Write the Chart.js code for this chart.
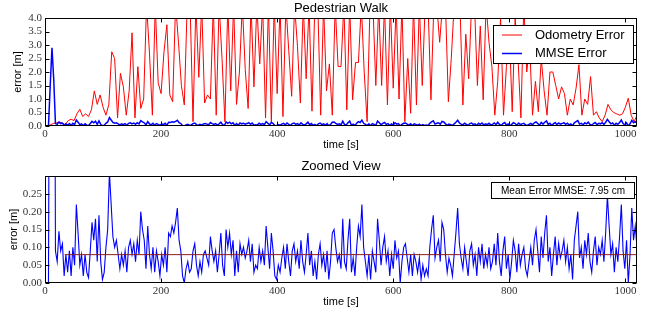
<!DOCTYPE html>
<html>
<head>
<meta charset="utf-8">
<script src="https://cdn.jsdelivr.net/npm/chart.js@4.4.1/dist/chart.umd.min.js"></script>
<style>
html, body { margin: 0; padding: 0; background: #fff; }
#wrap { position: relative; width: 651px; height: 314px; }
canvas { position: absolute; left: 0; }
</style>
</head>
<body>
<div id="wrap">
  <canvas id="walk" width="651" height="157" style="top:0"></canvas>
  <canvas id="zoomed" width="651" height="157" style="top:157px"></canvas>
</div>
<script>
// sampling of the two logged series (seconds between samples)
const odoStep = 5;
const mmseStep = 3;

// odometry error [m], t = 0 .. 1020 s
const odometryError = [
  0, 0, 0.05, 0.1, 0.12, 0.15, 0.1, 0.05, 0.2, 0.25,
  0.2, 0.45, 0.62, 0.35, 0.45, 0.35, 0.6, 1.3, 0.8, 1.15,
  0.7, 0.4, 0.8, 2.75, 2.5, 0.3, 1.95, 1.45, 0.4, 1.3,
  3.45, 0.3, 2.2, 0.65, 1.0, 4.5, 2.7, 0.4, 4.5, 1.6,
  1.2, 2.75, 3.75, 1.15, 0.9, 4.5, 3.1, 1.5, 0.78, 4.5,
  4.5, 0.16, 4.5, 1.8, 4.5, 0.85, 1.15, 1.0, 4.5, 0.4,
  4.5, 2.5, 0.16, 4.5, 1.3, 4.5, 0.8, 2.0, 4.5, 2.1,
  0.65, 4.5, 1.45, 4.5, 2.3, 4.5, 0.3, 4.5, 0.16, 4.5,
  1.2, 4.5, 0.35, 4.5, 2.8, 1.1, 4.5, 2.95, 0.85, 4.5,
  1.75, 4.5, 0.55, 4.5, 4.5, 0.4, 4.5, 1.3, 2.3, 0.4,
  4.5, 2.2, 2.2, 4.5, 0.6, 4.5, 0.97, 2.35, 2.35, 4.5,
  2.0, 0.16, 4.5, 4.5, 1.5, 4.5, 1.5, 4.5, 0.78, 4.5,
  1.4, 4.5, 1.0, 4.5, 0.16, 2.5, 0.47, 4.5, 0.78, 4.5,
  1.5, 4.5, 4.5, 0.97, 4.5, 4.5, 3.1, 4.5, 4.5, 0.9,
  2.5, 4.5, 4.5, 4.5, 0.78, 3.4, 1.75, 4.5, 4.5, 1.5,
  3.7, 0.97,
  4.5, 3.1, 2.2, 0.4, 1.65, 4.0, 0.4, 2.2, 3.5, 0.53,
  4.0, 2.5, 0.3, 4.5, 2.0, 3.0, 0.4, 1.65, 0.53, 2.5,
  1.3, 0.4, 2.0, 2.0, 1.5, 1.0, 1.45, 1.2, 0.4, 1.0,
  0.78, 1.4, 2.27, 0.4, 1.0, 0.8, 1.83, 0.4, 0.53, 0.3,
  0.16, 0.4, 0.8, 0.6, 0.5, 0.45, 0.4, 0.45, 0.7, 1.03,
  0.4, 0.16, 0.4
];

// MMSE error [m], t = 0 .. 1020 s
const mmseError = [
  0, 0, 0, 1.5, 2.9, 1.75, 0.09, 0.06, 0.145, 0.09,
  0.11, 0.02, 0.08, 0.03, 0.09, 0.02, 0.10, 0.05, 0.22, 0.14,
  0.05, 0.08, 0.02, 0.08, 0.03, 0.015, 0.09, 0.17, 0.12, 0.18,
  0.06, 0.19, 0.06, 0.01, 0.03, 0.10, 0.15, 0.31, 0.22, 0.13,
  0.10, 0.12, 0.08, 0.04, 0.08, 0.05, 0.09, 0.03, 0.10, 0.12,
  0.08, 0.11, 0.06, 0.12, 0.08, 0.20, 0.15, 0.12, 0.04, 0.16,
  0.08, 0.04, 0.10, 0.03, 0.09, 0.06, 0.02, 0.08, 0.05, 0.10,
  0.03, 0.14, 0.13, 0.16, 0.14, 0.17, 0.21, 0.12, 0.09, 0.02,
  0.00, 0.04, 0.06, 0.03,
  0.04, 0.09, 0.11, 0.05, 0.02, 0.06, 0.03, 0.08, 0.09, 0.07,
  0.05, 0.13, 0.09, 0.06, 0.09, 0.03, 0.08, 0.14, 0.05, 0.02,
  0.15, 0.10, 0.14, 0.08, 0.12, 0.02, 0.09, 0.03, 0.11, 0.08,
  0.10, 0.07, 0.09, 0.12, 0.06, 0.11, 0.03, 0.05, 0.04, 0.10,
  0.06, 0.09, 0.05, 0.16, 0.10, 0.04, 0.14, 0.09, 0.02, 0.01,
  0.05, 0.03, 0.07, 0.10, 0.04, 0.11, 0.06, 0.02, 0.09, 0.11,
  0.06, 0.09, 0.04, 0.12, 0.06, 0.03, 0.08, 0.14, 0.05, 0.09,
  0.02, 0.06, 0.01, 0.08, 0.11, 0.05, 0.08, 0.03, 0.09, 0.01,
  0.06, 0.14, 0.15,
  0.10, 0.06, 0.08, 0.04, 0.18, 0.06, 0.04, 0.12, 0.18, 0.03,
  0.07, 0.02, 0.10, 0.16, 0.13, 0.22, 0.10, 0.06, 0.02, 0.08,
  0.01, 0.09, 0.06, 0.03, 0.18, 0.12, 0.05, 0.10, 0.13, 0.06,
  0.09, 0.02, 0.08, 0.04, 0.12, 0.07, 0.09, 0.00, 0.06, 0.10,
  0.11, 0.07, 0.03, 0.08, 0.02, 0.08, 0.06, 0.03, 0.07, 0.01,
  0.05, 0.02, 0.04, 0.02, 0.10, 0.15, 0.19, 0.07, 0.10, 0.12,
  0.06, 0.17, 0.15, 0.08, 0.03, 0.07, 0.05, 0.02, 0.08, 0.14,
  0.21, 0.11, 0.07, 0.04, 0.10, 0.06, 0.02, 0.09, 0.11, 0.05,
  0.08, 0.02, 0.10, 0.06, 0.11, 0.04,
  0.08, 0.05, 0.10, 0.04, 0.06, 0.11, 0.05, 0.14, 0.06, 0.02,
  0.09, 0.13, 0.04, 0.08, 0.01, 0.06, 0.12, 0.09, 0.03, 0.11,
  0.05, 0.08, 0.10, 0.04, 0.02, 0.06, 0.10, 0.05, 0.12, 0.15,
  0.09, 0.03, 0.13, 0.07, 0.14, 0.19, 0.06, 0.10, 0.02, 0.08,
  0.13, 0.05, 0.11, 0.07, 0.09, 0.12, 0.06, 0.10, 0.04, 0.08,
  0.01, 0.12, 0.16, 0.20, 0.07, 0.10, 0.04, 0.12, 0.08, 0.14,
  0.06, 0.03, 0.09, 0.13, 0.05, 0.10, 0.08, 0.12, 0.06, 0.14,
  0.245, 0.16, 0.08, 0.11, 0.03, 0.10, 0.06, 0.13, 0.22, 0.09,
  0.04, 0.12, 0.00, 0.08, 0.21, 0.12, 0.16, 0.10
];

const meanError = 0.0795;   // 7.95 cm
const meanFrom = 34;        // s
const timeMax = 1020;

const timeTicks = [0, 200, 400, 600, 800, 1000];
const walkTicks = [0, 0.5, 1.0, 1.5, 2.0, 2.5, 3.0, 3.5, 4.0];
const zoomTicks = [0, 0.05, 0.10, 0.15, 0.20, 0.25];

const seriesNames = ['Odometry Error', 'MMSE Error'];
const seriesColors = ['#ff0000', '#0000ff'];

Chart.defaults.font.family = "'Liberation Sans', Arial, sans-serif";
Chart.defaults.color = '#000';

const odoPoints = odometryError.map((v, i) => ({ x: i * odoStep, y: v }));
const mmsePoints = mmseError.map((v, i) => ({ x: i * mmseStep, y: v }));

// black box round the plot area with inward ticks on all four sides
const frame = {
  id: 'frame',
  afterDatasetsDraw(chart) {
    const { ctx, chartArea: a, scales: { x, y } } = chart;
    const L = Math.round(a.left) + 0.5, R = Math.round(a.right) - 0.5;
    const T = Math.round(a.top) + 0.5, B = Math.round(a.bottom) - 0.5;
    ctx.save();
    ctx.strokeStyle = '#000';
    ctx.lineWidth = 1;
    ctx.beginPath();
    x.ticks.forEach(t => {
      const px = Math.round(x.getPixelForValue(t.value)) + 0.5;
      ctx.moveTo(px, B); ctx.lineTo(px, B - 4);
      ctx.moveTo(px, T); ctx.lineTo(px, T + 4);
    });
    y.ticks.forEach(t => {
      const py = Math.round(y.getPixelForValue(t.value)) + 0.5;
      ctx.moveTo(L, py); ctx.lineTo(L + 4, py);
      ctx.moveTo(R, py); ctx.lineTo(R - 4, py);
    });
    ctx.stroke();
    ctx.strokeRect(L, T, R - L, B - T);
    ctx.restore();
  }
};

const legendBox = {
  id: 'legendBox',
  afterDraw(chart) {
    const { ctx, chartArea: a } = chart;
    const w = 140, h = 38;
    const bx = Math.round(a.right) - 4 - w, by = Math.round(a.top) + 7;
    ctx.save();
    ctx.fillStyle = '#fff';
    ctx.fillRect(bx, by, w, h);
    ctx.strokeStyle = '#000';
    ctx.lineWidth = 1;
    ctx.strokeRect(bx + 0.5, by + 0.5, w, h);
    ctx.font = "13px 'Liberation Sans'";
    ctx.textBaseline = 'middle';
    seriesNames.forEach((name, i) => {
      const ly = by + 10 + i * 18.5;
      ctx.strokeStyle = seriesColors[i];
      ctx.lineWidth = i === 0 ? 1 : 1.5;
      ctx.beginPath();
      ctx.moveTo(bx + 9, ly); ctx.lineTo(bx + 29, ly);
      ctx.stroke();
      ctx.fillStyle = '#000';
      ctx.fillText(name, bx + 42, ly);
    });
    ctx.restore();
  }
};

const meanBox = {
  id: 'meanBox',
  afterDraw(chart) {
    const { ctx, chartArea: a } = chart;
    const w = 143, h = 16;
    const bx = Math.round(a.right) - 3 - w, by = Math.round(a.top) + 6;
    ctx.save();
    ctx.fillStyle = '#fff';
    ctx.fillRect(bx, by, w, h);
    ctx.strokeStyle = '#000';
    ctx.lineWidth = 1;
    ctx.strokeRect(bx + 0.5, by + 0.5, w, h);
    ctx.fillStyle = '#000';
    ctx.font = "10px 'Liberation Sans'";
    ctx.textAlign = 'center';
    ctx.textBaseline = 'middle';
    ctx.fillText('Mean Error MMSE: ' + (meanError * 100).toFixed(2) + ' cm', bx + w / 2 + 0.5, by + h / 2 + 1);
    ctx.restore();
  }
};

function makeOptions(title, yMax, yTicks, digits, yTitlePad, titlePad) {
  return {
    responsive: false,
    devicePixelRatio: 1,
    animation: false,
    events: [],
    layout: { padding: { left: 0, right: 14, top: 0, bottom: 0 } },
    plugins: {
      legend: { display: false },
      tooltip: { enabled: false },
      title: {
        display: true,
        text: title,
        fullSize: false,
        color: '#000',
        font: { size: 13, weight: 'normal' },
        padding: titlePad
      }
    },
    scales: {
      x: {
        type: 'linear',
        min: 0,
        max: timeMax,
        afterBuildTicks: s => { s.ticks = timeTicks.map(v => ({ value: v })); },
        afterFit: s => { s.height = 31; },
        grid: { display: false, drawTicks: false },
        border: { display: false },
        ticks: {
          padding: 2,
          color: '#333',
          maxRotation: 0,
          autoSkip: false,
          font: { family: "'Liberation Serif', serif", size: 11 },
          callback: v => String(v)
        },
        title: {
          display: true,
          text: 'time [s]',
          color: '#000',
          font: { size: 11 },
          padding: { top: 0, bottom: 5 }
        }
      },
      y: {
        type: 'linear',
        min: 0,
        max: yMax,
        afterBuildTicks: s => { s.ticks = yTicks.map(v => ({ value: v })); },
        afterFit: s => { s.width = 45; },
        grid: { display: false, drawTicks: false },
        border: { display: false },
        ticks: {
          padding: 3,
          color: '#333',
          autoSkip: false,
          font: { family: "'Liberation Serif', serif", size: 11 },
          callback: v => Number(v).toFixed(digits)
        },
        title: {
          display: true,
          text: 'error [m]',
          color: '#000',
          font: { size: 11 },
          padding: { top: yTitlePad, bottom: 0 }
        }
      }
    }
  };
}

// 1. Pedestrian walk, full range
new Chart(document.getElementById('walk'), {
  type: 'line',
  data: {
    datasets: [{
      label: seriesNames[1],
      data: mmsePoints,
      borderColor: seriesColors[1],
      borderWidth: 1.5,
      pointRadius: 0,
      tension: 0,
      clip: 0
    }, {
      label: seriesNames[0],
      data: odoPoints,
      borderColor: seriesColors[0],
      borderWidth: 1,
      pointRadius: 0,
      tension: 0,
      clip: 0
    }]
  },
  options: makeOptions('Pedestrian Walk', 4.0, walkTicks, 1, 11, { top: 1, bottom: 1.4 }),
  plugins: [frame, legendBox]
});

// 2. Zoomed view of the MMSE error with its mean
new Chart(document.getElementById('zoomed'), {
  type: 'line',
  data: {
    datasets: [{
      label: 'Mean',
      data: [{ x: meanFrom, y: meanError }, { x: timeMax, y: meanError }],
      borderColor: '#8c1c1c',
      borderWidth: 1,
      pointRadius: 0,
      clip: 0
    }, {
      label: seriesNames[1],
      data: mmsePoints,
      borderColor: seriesColors[1],
      borderWidth: 1.1,
      pointRadius: 0,
      tension: 0,
      clip: 0
    }]
  },
  options: makeOptions('Zoomed View', 0.3, zoomTicks, 2, 7, { top: 2, bottom: 1.4 }),
  plugins: [frame, meanBox]
});
</script>
</body>
</html>
